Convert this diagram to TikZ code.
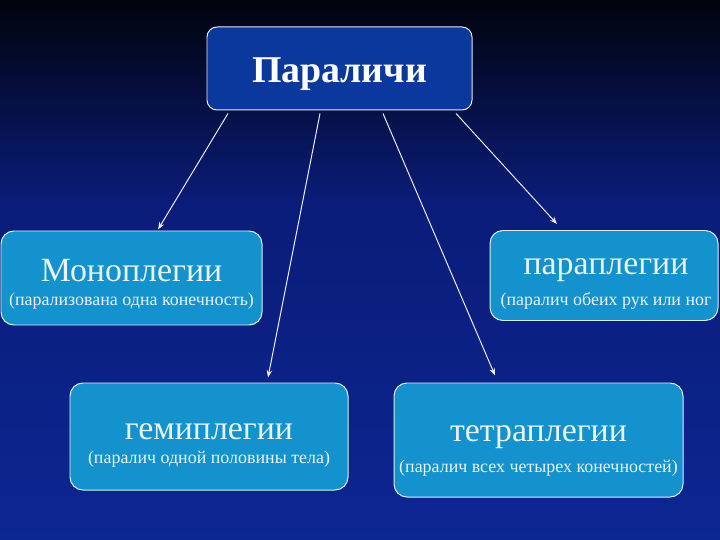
\documentclass[tikz,border=0pt]{standalone}
\usepackage{fontspec}
\setmainfont{Liberation Serif}
\usetikzlibrary{arrows.meta,calc,positioning}
\definecolor{bgtop}{HTML}{01030C}
\definecolor{bgmid}{HTML}{0A1C78}
\definecolor{bgbot}{HTML}{0C2692}
\definecolor{headblue}{HTML}{0B389C}
\definecolor{boxblue}{HTML}{1392CE}
\definecolor{txtlight}{HTML}{EAF4FF}
\tikzset{
  >=Stealth,
  line cap=round,
  line join=round,
  headbox/.style={draw=white!90!headblue, line width=1pt, rounded corners=10bp, fill=headblue,
    text=white, minimum width=265bp, minimum height=83bp, inner sep=0pt,
    font=\fontsize{38}{44}\selectfont\bfseries},
  kindbox/.style={draw=white!85!boxblue, line width=1pt, rounded corners=13bp, fill=boxblue},
  kindtext/.style={text=txtlight, align=center, inner sep=0pt},
  arrow/.style={->, draw=white!92!blue, line width=1pt},
}
\newcommand{\kindtxt}[2]{{\fontsize{34}{38}\selectfont #1}\\[10bp]{\fontsize{18}{21}\selectfont #2}}

\begin{document}
\begin{tikzpicture}[x=1bp, y=-1bp]

% background
\shade[top color=bgtop, bottom color=bgmid] (0,0) rectangle (720,200);
\shade[top color=bgmid, bottom color=bgbot] (0,199.5) rectangle (720,540);
\useasboundingbox (0,0) rectangle (720,540);

% top box
\node[headbox] (head) at (339.5,68.5) {\raisebox{-14bp}[0pt][0pt]{Параличи}};

% kinds
\node[kindbox, minimum width=261bp, minimum height=94bp] (mono) at (131.5,278) {};
\node[kindbox, minimum width=228bp, minimum height=90bp] (para) at (604,275.5) {};
\node[kindbox, minimum width=278bp, minimum height=107bp] (hemi) at (209,436.5) {};
\node[kindbox, minimum width=289bp, minimum height=114bp] (tetra) at (538.5,440) {};

% texts
\node[kindtext] (monotxt) at ([yshift=-6bp]mono.center)
  {\kindtxt{Моноплегии}{(парализована одна конечность)}};
\node[kindtext] (paratxt) at ([xshift=2bp, yshift=-8bp]para.center)
  {\kindtxt{параплегии}{(паралич обеих рук или ног}};
\node[kindtext] (hemitxt) at ([yshift=-9bp]hemi.center)
  {\kindtxt{гемиплегии}{(паралич одной половины тела)}};
\node[kindtext] (tetratxt) at ([yshift=-11bp]tetra.center)
  {\kindtxt{тетраплегии}{(паралич всех четырех конечностей)}};

% arrows
\draw[arrow] ([xshift=-111.5bp, yshift=-3bp]head.south) -- ([xshift=26.5bp, yshift=1bp]mono.north);
\draw[arrow] ([xshift=-19.5bp, yshift=-3bp]head.south) -- ([xshift=59bp, yshift=5bp]hemi.north);
\draw[arrow] ([xshift=43.5bp, yshift=-3bp]head.south) -- ([xshift=-43.5bp, yshift=7bp]tetra.north);
\draw[arrow] ([xshift=116.5bp, yshift=-3bp]head.south) -- ([xshift=-47bp, yshift=6bp]para.north);

\end{tikzpicture}
\end{document}
